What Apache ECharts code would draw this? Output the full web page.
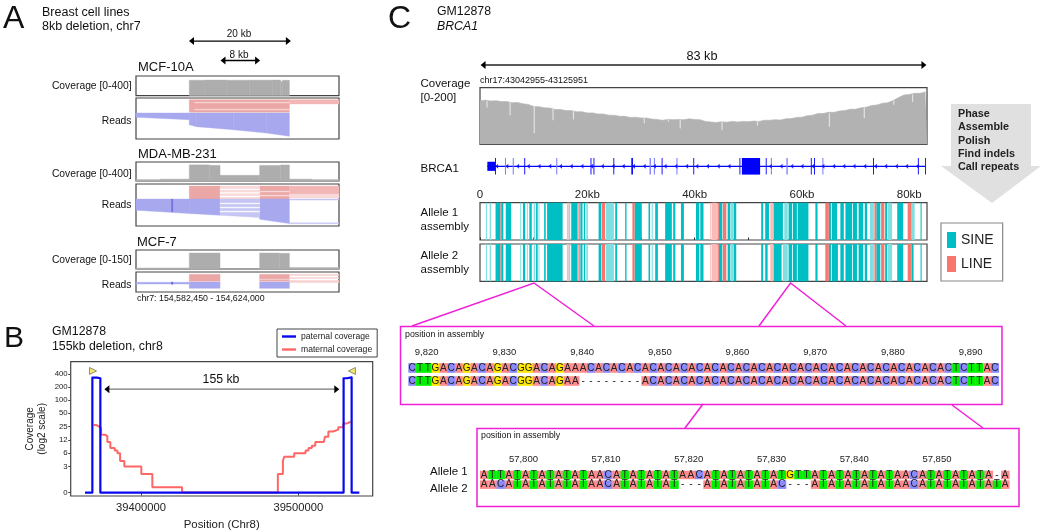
<!DOCTYPE html>
<html>
<head>
<meta charset="utf-8">
<title>Deletions and BRCA1 assembly</title>
<script src="https://cdn.jsdelivr.net/npm/echarts@6/dist/echarts.min.js"></script>
<style>
  html, body { margin: 0; padding: 0; background: #fff; }
  #chart { width: 1041px; height: 531px; }
</style>
</head>
<body>
<div id="chart"></div>
<script>
// ---------- panel A, positions in kb from chr7:154,582,450, [start, end, coverage] ----------
const mcf10aCoverage = [[10.9,14.1,314],[14.1,18.6,318],[18.6,23.2,314],[23.2,28,316],[28,29.6,318],[29.6,30,290],[30,31.4,314]]
const mdaCoverage = [[0,5,30],[5,10.9,40],[10.9,15,340],[15,17.2,330],[17.2,25.3,120],[25.3,29.6,328],[29.6,31.4,338],[31.4,36,40],[36,41.55,30]]
const mcf7Coverage = [[0,10.9,8],[10.9,17.2,126],[25.3,29.4,126],[29.4,31.4,124],[31.4,41.55,12]]
// reads: [x0, x1, top at x0, top at x1, bottom at x0, bottom at x1]
const mcf10aRed = [[10.9,31.4,1.7,1.7,14.3,14.3]]
const mcf10aRedRight = [[31.4,41.55,1.7,1.7,6,6]]
const mcf10aRedPale = [[12,31.4,4.3,4.3,5,5],[12,31.4,11.2,11.2,12,12]]
const mcf10aBlue = [[0,10.9,15,15,19.3,21.7],[10.9,12.4,15,15,26.7,28.7],[12.4,19.9,15,15,28.7,31.7],[19.9,26.7,15,15,31.7,35],[26.7,31.4,15,15,35,38.3]]
const mdaRed = [[10.9,17.2,2,2,15,15],[25.3,31.4,2,2,15,15]]
const mdaRedRight = [[31.4,41.55,2,2,10,10]]
const mdaRedPale = [[17.2,25.3,2,2,15,15],[25.3,31.4,7,7,8,8],[25.3,31.4,11,11,12,12],[31.4,41.55,10,10,14,14]]
const mdaBlue = [[0,10.9,15,15,26,29.3],[10.9,17.2,15,15,29.3,31],[25.3,31.4,15,15,35,39.3]]
const mdaBluePale = [[17.2,25.3,15,15,31,33.3],[31.4,41.55,15,15,16,16],[31.4,41.55,38.5,38.5,39.5,39.5]]
const mdaWhite = [[17.2,25.3,5,5,5.7,5.7],[17.2,25.3,8.5,8.5,9.3,9.3],[17.2,25.3,12,12,12.8,12.8],[17.2,25.3,19,19,19.8,19.8],[17.2,25.3,23,23,23.8,23.8],[17.2,25.3,27,27,27.8,27.8]]
const mdaMark = [[7.3,7.5,15,15,27.5,27.5]]
const mcf7Red = [[10.9,17.2,2.3,2.3,9.3,9.3],[25.3,31.4,2.3,2.3,9.3,9.3]]
const mcf7RedPale = [[31.4,41.55,2.3,2.3,3.5,3.5],[31.4,41.55,5.5,5.5,6.5,6.5],[31.4,41.55,8.5,8.5,10.5,10.5],[25.3,31.4,7,7,7.6,7.6]]
const mcf7Blue = [[0,10.9,10.3,10.3,12,12],[10.9,17.2,10,10,16.3,16.3],[25.3,31.4,10,10,16.3,16.3]]
const mcf7Mark = [[7.3,7.5,10,10,12.3,12.3]]
const spanA = [[10.85,31.7,0.82],[17.3,25.4,0.125]]

// ---------- panel B ----------
const coverageTicks = [0,3,6,12,25,50,100,200,400]
const positionTicks = [39400000,39500000]
const paternal = [[39364400,0],[39369070,330],[39372000,320],[39374150,0],[39528800,320],[39531000,335],[39533900,0],[39538800,0]]
const maternal = [[39369900,27],[39371400,25],[39373100,23],[39374600,16],[39377300,15],[39378600,11],[39380500,8],[39383300,7],[39385000,6],[39386700,4],[39389400,3],[39400200,2],[39407200,1],[39426100,0],
  [39487000,2],[39490200,4],[39491000,5],[39497400,6],[39504600,7],[39506500,8],[39508600,9],[39510800,11],[39516300,10],[39516900,14.5],[39519100,19],[39522200,21],[39525400,24],[39528600,29],[39530700,32],[39533300,33],[39533400,33]]
const breakpointLeft = [[39369500,470]]
const breakpointRight = [[39534100,470]]
const spanB = [[39376700,39526060,7.9]]

// ---------- panel C, positions in kb ----------
const brcaCoverage = [154,156,153,154,151,151,147,148,143,141,134,133,129,128,123,123,119,119,115,115,111,111,107,107,103,103,99,99,95,96,93,93,89,88,85,88,87,88,87,90,88,87,81,79,77,80,78,81,79,81,80,82,81,85,85,87,86,90,91,95,96,101,103,109,109,113,113,118,119,124,124,129,131,137,139,145,147,155,165,174,176,180,180,185]
const brcaDips = [[1.2,130,152],[5.5,103,150],[10,39,136],[13.5,85,126],[17.3,88,118],[30.5,74,93],[35,80,87],[37.2,56,88],[45,50,79],[51.6,66,82],[65,62,110],[71.5,92,130],[77,140,155],[80.5,150,176]]
const geneBackbone = [[1.37,83]]
const geneUtr = [[1.37,2.86]]
const geneCds = [[48.8,52.2]]
const geneExons = [[2.8,2.95],[8.25,8.4],[20.6,20.75],[21.15,21.25],[24.85,24.95],[28.2,28.5],[33.85,33.95],[39.75,39.85],[48.35,48.5],[53.25,53.35],[61.65,61.75],[62.25,62.35],[73.25,73.35],[81.6,81.7],[82.95,83.05]]
const geneExonsFaint = [[4.65,4.85],[6.1,6.3],[14.2,14.4],[31.6,31.85],[32.4,32.6],[36.6,36.8],[54.2,54.4],[57.1,57.35],[63.8,64]]
const geneChevrons = [3.1,5,7,9,11,13,15,17,19,20.8,22.8,24.8,26.7,28.6,30.6,32.5,34.5,36.5,38.5,40.4,42.4,44.4,46.4,54.1,56.1,58.1,60,62,63.9,65.9,67.8,69.7,71.7,73.7,75.6,77.6,79.5,81.5]
const kbTicks = [0,10,20,30,40,50,60,70,80]
const kbLabels = [0,20,40,60,80]
const spanC = [[0.1,83.2,0.5]]

const allele1Sine = [[2.9,3.8],[4.1,4.35],[4.8,5.8],[8,8.4],[9.2,9.65],[10.45,10.75],[11.95,12.25],[12.5,15.4],[17,18.2],[18.7,19.1],[19.35,19.6],[22.1,22.6],[25.2,25.55],[27.05,27.3],[28.8,30.15],[31.4,31.7],[32.65,33.15],[34.5,35.75],[36,36.4],[37.45,38],[40.25,40.85],[41.05,41.65],[44.5,45.15],[46.15,46.65],[47.25,47.75],[52.4,52.75],[53.15,53.85],[54.7,56.45],[57.5,58.15],[58.3,59.05],[59.2,61.2],[62.5,62.9],[65,65.4],[65.6,66.55],[67.15,67.8],[68.1,69.35],[69.5,70.25],[70.55,71.4],[71.7,72.15],[73.85,74.6],[75.5,75.85],[77.75,78.85],[82.1,82.3]]
const allele1SineFaint = [[1.1,1.3],[1.8,2.05],[7.5,7.65],[8.75,8.9],[10,10.25],[10.9,11.05],[16.5,16.8],[19.8,20.1],[23.45,24.95],[32,32.2],[46.75,47.15],[56.7,57.35],[72.65,73.4],[76,76.8],[80.4,81]]
const allele1Line = [[3.8,4.1],[18.35,18.6],[22.7,23.3],[28.4,28.8],[44.25,44.5],[45.25,45.9],[64.35,65],[73.5,73.85],[74.75,75.35],[79.7,80.4]]
const allele1LineFaint = [[16.2,16.5],[42.9,43.1],[43.2,44.15],[54.1,54.6]]
const allele2Sine = [[2.9,3.8],[4.1,4.35],[4.8,5.8],[8,8.4],[9.2,9.65],[10.45,10.75],[11.95,12.25],[12.5,15.4],[17,18.2],[18.7,19.1],[19.35,19.6],[22.1,22.6],[25.2,25.55],[27.05,27.3],[28.8,30.15],[31.4,31.7],[32.65,33.15],[34.5,35.75],[36,36.4],[37.45,38],[40.25,40.85],[41.05,41.65],[44.5,45.15],[46.15,46.65],[47.25,47.75],[52.4,52.75],[53.15,53.6],[54.7,56.2],[57.5,58.15],[58.3,59.05],[59.2,61.2],[62.5,62.9],[65,65.4],[65.6,66.7],[67.15,67.8],[68.1,69.35],[69.5,70.25],[70.55,71.4],[71.7,72.15],[73.85,74.6],[75.5,75.85],[77.75,78.85],[80.4,80.8],[82.1,82.3]]
const allele2SineFaint = [[1.1,1.3],[1.8,2.05],[7.5,7.65],[8.75,8.9],[10,10.25],[10.9,11.05],[16.5,16.8],[19.8,20.1],[23.45,24.95],[32,32.2],[46.75,47.15],[56.45,57.35],[72.65,73.4],[76,76.8]]
const allele2Line = [[3.8,4.1],[18.35,18.6],[22.7,23.3],[28.4,28.8],[44.25,44.5],[45.25,45.9],[64.35,65],[73.5,73.85],[74.75,75.35],[79.7,80.4]]
const allele2LineFaint = [[16.2,16.5],[42.9,43.1],[43.2,44.15],[54.1,54.6]]

const inset1Start = 9818.13
const inset1Ticks = [9820,9830,9840,9850,9860,9870,9880,9890]
const inset1Top = 'CTTGACAGACAGACGGACAGAAACACACACACACACACACACACACACACACACACACACACACACACACTCTTAC'
const inset1Bottom = 'CTTGACAGACAGACGGACAGAA--------ACACACACACACACACACACACACACACACACACACACACTCTTAC'
const inset2Start = 57795.25
const inset2Ticks = [57800,57810,57820,57830,57840,57850]
const inset2Top = 'ATTATATATATATAACATATATATAACATATATATATGTTATATATATATAACATATATATA-A'
const inset2Bottom = 'AACATATATATATAACATATATAT---ATATATATAC---ATATATATATAACATATATATATA'

// ---------- colours ----------
const SINE_COLOR = '#00bfc4'
const SINE_FAINT = '#7fdfe1'
const LINE_COLOR = '#f8766d'
const LINE_FAINT = '#fcbab6'
const READ_RED = '#eba6a6'
const READ_BLUE = '#a8a8ee'
const GENE_BLUE = '#0000ff'
const GENE_FAINT = '#7f7fff'
const MAGENTA = '#f020d8'
const BASE_COLORS = { A: '#ff8c8c', C: '#8a8aff', T: '#00f000', G: '#ffe800' }

// ---------- grids ----------
const grids = []
const xAxes = []
const yAxes = []
const series = []

function addGrid (box, xRange, yRange, extraX, extraY) {
  const i = grids.length
  grids.push({
    left: box[0], top: box[1], width: box[2], height: box[3],
    show: box[4] !== false, borderColor: '#444', borderWidth: 1.2, backgroundColor: 'transparent'
  })
  xAxes.push(Object.assign({ type: 'value', gridIndex: i, min: xRange[0], max: xRange[1], show: false, splitLine: { show: false } }, extraX))
  yAxes.push(Object.assign({ type: 'value', gridIndex: i, min: yRange[0], max: yRange[1], show: false, splitLine: { show: false } }, extraY))
  return i
}

function custom (grid, data, renderItem, extra) {
  series.push(Object.assign({
    type: 'custom', coordinateSystem: 'cartesian2d', xAxisIndex: grid, yAxisIndex: grid,
    data: data, renderItem: renderItem, silent: true
  }, extra))
}

// [start, end] spanning a fraction of the grid height
function spans (grid, data, color, frac, extra) {
  const f = frac || 1
  custom(grid, data, function (params, api) {
    const a = api.coord([api.value(0), 0.5 + f / 2])
    const b = api.coord([api.value(1), 0.5 - f / 2])
    return { type: 'rect', shape: { x: a[0], y: a[1], width: Math.max(b[0] - a[0], 0.9), height: b[1] - a[1] }, style: { fill: color } }
  }, Object.assign({ itemStyle: { color: color } }, extra))
}

// [start, end, coverage]
function coverageBars (grid, data, color) {
  custom(grid, data, function (params, api) {
    const a = api.coord([api.value(0), api.value(2)])
    const b = api.coord([api.value(1), 0])
    return { type: 'rect', shape: { x: a[0], y: a[1], width: b[0] - a[0], height: b[1] - a[1] }, style: { fill: color, stroke: color, lineWidth: 0.4 } }
  })
}

// [x0, x1, top0, top1, bottom0, bottom1]
function readBand (grid, data, color) {
  custom(grid, data, function (params, api) {
    const pts = [
      api.coord([api.value(0), api.value(2)]),
      api.coord([api.value(1), api.value(3)]),
      api.coord([api.value(1), api.value(5)]),
      api.coord([api.value(0), api.value(4)])
    ]
    return { type: 'polygon', shape: { points: pts }, style: { fill: color, stroke: color, lineWidth: 0.4 } }
  })
}

// [x0, x1, y] double headed dimension arrow
function arrow (grid, data, lineColor) {
  custom(grid, data, function (params, api) {
    const a = api.coord([api.value(0), api.value(2)])
    const b = api.coord([api.value(1), api.value(2)])
    return {
      type: 'group',
      children: [
        { type: 'line', shape: { x1: a[0] + 2, y1: a[1], x2: b[0] - 2, y2: b[1] }, style: { stroke: lineColor, lineWidth: 1.3 } },
        { type: 'polygon', shape: { points: [[a[0], a[1]], [a[0] + 5, a[1] - 4], [a[0] + 5, a[1] + 4]] }, style: { fill: '#000' } },
        { type: 'polygon', shape: { points: [[b[0], b[1]], [b[0] - 5, b[1] - 4], [b[0] - 5, b[1] + 4]] }, style: { fill: '#000' } }
      ]
    }
  })
}

// one coloured cell per base, two rows
function baseCells (grid, start, rows, fontSize, cellFrac) {
  const cells = []
  rows.forEach(function (seq, row) {
    seq.split('').forEach(function (letter, i) {
      cells.push([start + i, row, letter])
    })
  })
  custom(grid, cells.map(c => [c[0], c[1]]), function (params, api) {
    const letter = cells[params.dataIndex][2]
    const p = api.coord([api.value(0), api.value(1)])
    const w = api.size([1, 0])[0]
    const h = api.size([0, 1])[1] * cellFrac
    const children = []
    if (letter !== '-') {
      children.push({ type: 'rect', shape: { x: p[0] - w / 2, y: p[1] - h / 2, width: w + 0.3, height: h }, style: { fill: BASE_COLORS[letter] } })
    }
    children.push({ type: 'text', style: { x: p[0], y: p[1], text: letter, fill: '#222', font: fontSize + 'px "Liberation Sans"', align: 'center', verticalAlign: 'middle' } })
    return { type: 'group', children: children }
  })
}

// ---------- panel A ----------
const A_LEFT = 136
const A_WIDTH = 203
const A_RANGE = [0, 41.55]

const rulerA = addGrid([A_LEFT, 36, A_WIDTH, 28, false], A_RANGE, [0, 1])
arrow(rulerA, spanA, '#000')

const covA1 = addGrid([A_LEFT, 76, A_WIDTH, 19.7], A_RANGE, [0, 400])
coverageBars(covA1, mcf10aCoverage, '#adadad')
const readsA1 = addGrid([A_LEFT, 98, A_WIDTH, 41], A_RANGE, [0, 41], {}, { inverse: true })
readBand(readsA1, mcf10aRed, READ_RED)
readBand(readsA1, mcf10aRedRight, '#f2b6b6')
readBand(readsA1, mcf10aRedPale, '#f8dcdc')
readBand(readsA1, mcf10aBlue, READ_BLUE)

const covA2 = addGrid([A_LEFT, 162, A_WIDTH, 19], A_RANGE, [0, 400])
coverageBars(covA2, mdaCoverage, '#adadad')
const readsA2 = addGrid([A_LEFT, 184, A_WIDTH, 42], A_RANGE, [0, 41.7], {}, { inverse: true })
readBand(readsA2, mdaRed, READ_RED)
readBand(readsA2, mdaRedRight, '#f2b6b6')
readBand(readsA2, mdaRedPale, '#f8d8d8')
readBand(readsA2, mdaBlue, READ_BLUE)
readBand(readsA2, mdaBluePale, '#c6c6f4')
readBand(readsA2, mdaWhite, '#ffffff')
readBand(readsA2, mdaMark, '#6464d8')

const covA3 = addGrid([A_LEFT, 250, A_WIDTH, 19], A_RANGE, [0, 150])
coverageBars(covA3, mcf7Coverage, '#adadad')
const readsA3 = addGrid([A_LEFT, 272, A_WIDTH, 20], A_RANGE, [0, 20], {}, { inverse: true })
readBand(readsA3, mcf7Red, READ_RED)
readBand(readsA3, mcf7RedPale, '#f8d0d0')
readBand(readsA3, mcf7Blue, READ_BLUE)
readBand(readsA3, mcf7Mark, '#5050d0')

// ---------- panel B ----------
// the y axis is in equal log2 steps, 3 sits two steps above 0
function toLogStep (v) {
  return v > 0 ? 2 + Math.log2(v / 3) : 0
}
const logLabels = {}
coverageTicks.forEach(function (t) { logLabels[toLogStep(t).toFixed(3)] = String(t) })

const plotB = addGrid([70.7, 361.7, 302, 136], [39355300, 39547300], [-0.26, 10], {
  show: true,
  position: 'bottom',
  name: 'Position (Chr8)',
  nameLocation: 'middle',
  nameGap: 23,
  nameTextStyle: { fontSize: 11.4, color: '#222' },
  axisLine: { show: false },
  axisTick: { show: true, length: 3, lineStyle: { color: '#444' }, customValues: positionTicks },
  axisLabel: { fontSize: 11.2, color: '#222', margin: 6, customValues: positionTicks, formatter: v => String(v) }
}, {
  show: true,
  position: 'left',
  name: 'Coverage\n(log2 scale)',
  nameLocation: 'middle',
  nameRotate: 90,
  nameGap: 22,
  nameTextStyle: { fontSize: 10, lineHeight: 12, color: '#222' },
  axisLine: { show: false },
  axisTick: { show: true, length: 2.5, lineStyle: { color: '#444' }, customValues: coverageTicks.map(toLogStep) },
  axisLabel: { fontSize: 7.8, color: '#222', margin: 3, customValues: coverageTicks.map(toLogStep), formatter: v => logLabels[v.toFixed(3)] }
})

series.push({
  type: 'line', name: 'maternal coverage', xAxisIndex: plotB, yAxisIndex: plotB, step: 'end',
  data: maternal.map(p => [p[0], toLogStep(p[1])]), symbol: 'none', silent: true,
  lineStyle: { color: '#ff6666', width: 2 }, itemStyle: { color: '#ff6666' }
})
series.push({
  type: 'line', name: 'paternal coverage', xAxisIndex: plotB, yAxisIndex: plotB, step: 'end',
  data: paternal.map(p => [p[0], toLogStep(p[1])]), symbol: 'none', silent: true,
  lineStyle: { color: '#0808f0', width: 2.2, join: 'round' }, itemStyle: { color: '#0808f0' }
})
series.push({
  type: 'scatter', xAxisIndex: plotB, yAxisIndex: plotB, silent: true,
  data: breakpointLeft.map(p => [p[0], toLogStep(p[1])]),
  symbol: 'triangle', symbolRotate: -90, symbolSize: 7,
  itemStyle: { color: '#f4e04a', borderColor: '#555', borderWidth: 0.8 }
})
series.push({
  type: 'scatter', xAxisIndex: plotB, yAxisIndex: plotB, silent: true,
  data: breakpointRight.map(p => [p[0], toLogStep(p[1])]),
  symbol: 'triangle', symbolRotate: 90, symbolSize: 7,
  itemStyle: { color: '#f4e04a', borderColor: '#555', borderWidth: 0.8 }
})
arrow(plotB, spanB, '#777')

// ---------- panel C ----------
const C_LEFT = 480
const C_WIDTH = 447
const C_RANGE = [0, 83.3]

const rulerC = addGrid([C_LEFT, 60, C_WIDTH, 10, false], C_RANGE, [0, 1])
arrow(rulerC, spanC, '#222')

const covC = addGrid([C_LEFT, 87.7, C_WIDTH, 56.6], C_RANGE, [0, 200])
series.push({
  type: 'line', xAxisIndex: covC, yAxisIndex: covC, symbol: 'none', silent: true,
  data: brcaCoverage.map((v, i) => [i, v]).concat([[83.3, brcaCoverage[brcaCoverage.length - 1]]]),
  lineStyle: { color: '#b2b2b2', width: 0.6 }, areaStyle: { color: '#b2b2b2', opacity: 1 }
})
custom(covC, brcaDips, function (params, api) {
  const a = api.coord([api.value(0), api.value(2)])
  const b = api.coord([api.value(0), api.value(1)])
  return { type: 'rect', shape: { x: a[0], y: a[1], width: 1.2, height: b[1] - a[1] }, style: { fill: '#e2e2e2' } }
}, { z: 5 })

const gene = addGrid([C_LEFT, 158, C_WIDTH, 16.6, false], C_RANGE, [0, 1])
spans(gene, geneBackbone, GENE_BLUE, 0.07)
spans(gene, geneExonsFaint, GENE_FAINT, 1)
spans(gene, geneExons, GENE_BLUE, 1)
spans(gene, geneUtr, GENE_BLUE, 0.55)
spans(gene, geneCds, GENE_BLUE, 1)
series.push({
  type: 'scatter', xAxisIndex: gene, yAxisIndex: gene, silent: true,
  data: geneChevrons.map(kb => [kb, 0.5]),
  symbol: 'triangle', symbolRotate: 90, symbolSize: [5, 3],
  itemStyle: { color: GENE_BLUE }
})

const allele1 = addGrid([C_LEFT, 202.7, C_WIDTH, 37.3], C_RANGE, [0, 1], {
  show: true,
  position: 'top',
  axisLine: { show: false },
  axisTick: { show: true, length: 2.5, lineStyle: { color: '#333' }, customValues: kbTicks },
  axisLabel: { fontSize: 11.5, color: '#222', margin: 2, customValues: kbLabels, formatter: v => (v === 0 ? '0' : v + 'kb') }
})
spans(allele1, allele1Sine, SINE_COLOR, 1, { name: 'SINE' })
spans(allele1, allele1SineFaint, SINE_FAINT)
spans(allele1, allele1Line, LINE_COLOR, 1, { name: 'LINE' })
spans(allele1, allele1LineFaint, LINE_FAINT)

const allele2 = addGrid([C_LEFT, 244, C_WIDTH, 37.3], C_RANGE, [0, 1])
spans(allele2, allele2Sine, SINE_COLOR)
spans(allele2, allele2SineFaint, SINE_FAINT)
spans(allele2, allele2Line, LINE_COLOR)
spans(allele2, allele2LineFaint, LINE_FAINT)

// alignment insets
const inset1 = addGrid([408.3, 361.5, 590.5, 26, false], [inset1Start - 0.5, inset1Start + 75.5], [-0.5, 1.5], {
  show: true,
  position: 'top',
  offset: 3.5,
  axisLine: { show: false },
  axisTick: { show: true, length: 2.5, lineStyle: { color: '#555' }, customValues: inset1Ticks },
  axisLabel: { fontSize: 9.5, color: '#222', margin: 1, customValues: inset1Ticks, formatter: v => v.toLocaleString('en-US') }
}, { inverse: true })
baseCells(inset1, inset1Start, [inset1Top, inset1Bottom], 10, 0.74)

const inset2 = addGrid([480, 470.1, 529.3, 19.4, false], [inset2Start - 0.5, inset2Start + 63.5], [-0.5, 1.5], {
  show: true,
  position: 'top',
  offset: 4.5,
  axisLine: { show: false },
  axisTick: { show: true, length: 2.5, lineStyle: { color: '#555' }, customValues: inset2Ticks },
  axisLabel: { fontSize: 9.5, color: '#222', margin: 1, customValues: inset2Ticks, formatter: v => v.toLocaleString('en-US') }
}, { inverse: true })
baseCells(inset2, inset2Start, [inset2Top, inset2Bottom], 10, 0.88)

// ---------- text and decoration ----------
function txt (x, y, text, size, extra) {
  return {
    type: 'text', x: x, y: y, silent: true,
    style: Object.assign({ text: text, fontSize: size, fill: '#111', fontFamily: 'Liberation Sans', verticalAlign: 'middle', align: 'left' }, extra)
  }
}
function polyline (points, color, width) {
  return { type: 'polyline', silent: true, shape: { points: points }, style: { stroke: color, lineWidth: width, fill: null } }
}
function box (x, y, w, h) {
  return { type: 'rect', silent: true, shape: { x: x, y: y, width: w, height: h }, style: { stroke: MAGENTA, lineWidth: 1.5, fill: 'transparent' } }
}

const graphics = [
  // zoom connectors, under the boxes
  polyline([[412, 326], [534, 283], [594, 326]], MAGENTA, 1.5),
  polyline([[759, 326], [790.5, 283], [846, 326]], MAGENTA, 1.5),
  polyline([[703, 404], [685, 428]], MAGENTA, 1.5),
  polyline([[952, 405], [983, 428]], MAGENTA, 1.5),
  box(400.5, 326.5, 601.5, 78),
  box(477, 428.5, 542, 78),

  txt(3, 19, 'A', 32),
  txt(42, 12.5, 'Breast cell lines', 12.5),
  txt(42, 27, '8kb deletion, chr7', 12.5),
  txt(239, 34, '20 kb', 10, { align: 'center' }),
  txt(239, 55, '8 kb', 10, { align: 'center' }),
  txt(138, 67, 'MCF-10A', 13),
  txt(138, 154, 'MDA-MB-231', 13),
  txt(137, 242, 'MCF-7', 13),
  txt(131.5, 86, 'Coverage [0-400]', 10.3, { align: 'right' }),
  txt(131.5, 121, 'Reads', 10.3, { align: 'right' }),
  txt(131.5, 174, 'Coverage [0-400]', 10.3, { align: 'right' }),
  txt(131.5, 205, 'Reads', 10.3, { align: 'right' }),
  txt(131.5, 260, 'Coverage [0-150]', 10.3, { align: 'right' }),
  txt(131.5, 285, 'Reads', 10.3, { align: 'right' }),
  txt(137, 298.5, 'chr7: 154,582,450 - 154,624,000', 8.8),

  txt(4, 339, 'B', 30),
  txt(52, 332, 'GM12878', 12.3),
  txt(52, 347, '155kb deletion, chr8', 12.3),
  txt(221, 379.5, '155 kb', 12.3, { align: 'center' }),

  txt(388, 19, 'C', 32),
  txt(437, 12, 'GM12878', 12.3),
  txt(437, 27, 'BRCA1', 12.3, { fontStyle: 'italic' }),
  txt(702, 56, '83 kb', 12.7, { align: 'center' }),
  txt(480, 80.5, 'chr17:43042955-43125951', 9),
  txt(420.5, 84, 'Coverage', 11.5),
  txt(420.5, 97.5, '[0-200]', 11.5),
  txt(420.5, 169, 'BRCA1', 11.5),
  txt(420.5, 212.7, 'Allele 1', 11.5),
  txt(420.5, 226.7, 'assembly', 11.5),
  txt(420.5, 256, 'Allele 2', 11.5),
  txt(420.5, 270, 'assembly', 11.5),

  // workflow arrow
  { type: 'polygon', silent: true, shape: { points: [[951, 104], [1031, 104], [1031, 166], [1041, 166], [992, 203], [941, 166], [951, 166]] }, style: { fill: '#e0e0e0' } },
  txt(958, 114, 'Phase', 10.8, { fontWeight: 'bold', fill: '#222' }),
  txt(958, 127.5, 'Assemble', 10.8, { fontWeight: 'bold', fill: '#222' }),
  txt(958, 140.7, 'Polish', 10.8, { fontWeight: 'bold', fill: '#222' }),
  txt(958, 154, 'Find indels', 10.8, { fontWeight: 'bold', fill: '#222' }),
  txt(958, 167, 'Call repeats', 10.8, { fontWeight: 'bold', fill: '#222' }),

  txt(405, 335, 'position in assembly', 8.8),
  txt(481, 436, 'position in assembly', 8.8),
  txt(430, 471.7, 'Allele 1', 11.5),
  txt(430, 488.5, 'Allele 2', 11.5)
]

const chart = echarts.init(document.getElementById('chart'), null, { renderer: 'canvas' })
chart.setOption({
  animation: false,
  backgroundColor: '#fff',
  textStyle: { fontFamily: 'Liberation Sans' },
  grid: grids,
  xAxis: xAxes,
  yAxis: yAxes,
  legend: [
    {
      data: [{ name: 'paternal coverage', icon: 'rect' }, { name: 'maternal coverage', icon: 'rect' }],
      left: 277, top: 329, orient: 'vertical', selectedMode: false,
      itemWidth: 14, itemHeight: 2.4, itemGap: 4, padding: [3, 5],
      borderColor: '#444', borderWidth: 1, backgroundColor: '#fff',
      textStyle: { fontSize: 8.6, color: '#222' }
    },
    {
      data: [{ name: 'SINE', icon: 'rect' }, { name: 'LINE', icon: 'rect' }],
      left: 941, top: 223, orient: 'vertical', selectedMode: false,
      itemWidth: 9, itemHeight: 16, itemGap: 8, padding: [9, 9, 9, 6],
      borderColor: '#888', borderWidth: 1.2, backgroundColor: '#fff',
      textStyle: { fontSize: 14, color: '#222' }
    }
  ],
  series: series,
  graphic: { elements: graphics }
})
</script>
</body>
</html>
